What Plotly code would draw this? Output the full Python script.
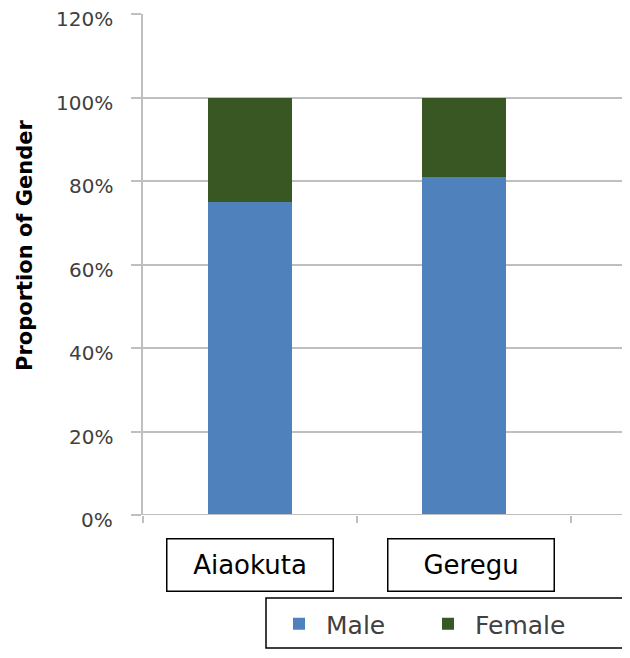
import plotly.graph_objects as go

categories = ["Aiaokuta", "Geregu"]
male = [0.75, 0.81]
female = [0.25, 0.19]
series_names = ["Male", "Female"]
y_ticks = [0, 0.2, 0.4, 0.6, 0.8, 1.0, 1.2]
y_tick_labels = ["0%", "20%", "40%", "60%", "80%", "100%", "120%"]
y_title = "Proportion of Gender"

FONT = "DejaVu Sans"
GRID = "#bfbfbf"
TXT = "#404040"

fig = go.Figure()
fig.add_trace(go.Bar(x=categories, y=male, name=series_names[0],
                     marker=dict(color="#4f81bd", line=dict(width=0)), width=0.39))
fig.add_trace(go.Bar(x=categories, y=female, name=series_names[1],
                     marker=dict(color="#385723", line=dict(width=0)), width=0.39))

PW = 495.0  # plot width in px
PH = 501.0  # plot height in px

fig.update_layout(
    barmode="stack",
    width=630, height=658,
    margin=dict(l=135, r=0, t=6, b=151, autoexpand=False),
    plot_bgcolor="white", paper_bgcolor="white",
    font=dict(family=FONT, color=TXT),
    showlegend=True,
    legend=dict(orientation="h", x=(272 - 143) / PW, xanchor="left", y=(515 - 624) / PH,
                yanchor="middle", itemwidth=44,
                font=dict(size=25, family=FONT, color=TXT),
                entrywidth=90, entrywidthmode="pixels", bgcolor="rgba(0,0,0,0)",
                traceorder="normal"),
    xaxis=dict(range=[-0.5, 1.813], showticklabels=False, tickson="boundaries",
               ticks="outside", ticklen=7, tickcolor=GRID, tickwidth=2,
               showline=False, showgrid=False, zeroline=False),
    yaxis=dict(range=[0, 1.2], tickvals=y_ticks, showticklabels=False,
               ticks="outside", ticklen=10, tickcolor=GRID, tickwidth=2,
               showline=True, linecolor=GRID, linewidth=2,
               showgrid=True, gridcolor=GRID, gridwidth=2, zeroline=False),
)

# y tick labels (sit slightly below their gridlines, as in the reference)
for v, t in zip(y_ticks, y_tick_labels):
    fig.add_annotation(x=(115 - 143) / PW, xref="paper", xanchor="right",
                       y=v, yref="y", yanchor="middle", yshift=-5,
                       text=t, showarrow=False,
                       font=dict(size=20, family=FONT, color=TXT))

# y-axis title
fig.add_annotation(x=(25 - 143) / PW, xref="paper", xanchor="center",
                   y=(515 - 246) / PH, yref="paper", yanchor="middle",
                   text="<b>" + y_title + "</b>", textangle=-90, showarrow=False,
                   font=dict(size=21, family=FONT, color="#000000"))

# bottom axis line at 0%
fig.add_shape(type="line", xref="paper", yref="y", x0=0, x1=1, y0=0, y1=0,
              line=dict(color=GRID, width=2))

# boxed category labels
for c, xs in zip(categories, [0, 7]):
    fig.add_annotation(x=c, xref="x", y=(515 - 565) / PH, yref="paper", yanchor="middle",
                       xshift=xs, text=c, showarrow=False, width=165, height=51,
                       bordercolor="#000000", borderwidth=1.5, borderpad=0,
                       font=dict(size=26, family=FONT, color="#000000"))

# legend frame
fig.add_shape(type="rect", xref="paper", yref="paper",
              x0=(266 - 143) / PW, x1=1.05, y0=(515 - 598) / PH, y1=(515 - 648) / PH,
              line=dict(color="#000000", width=1.5))

fig.write_html("out.html")
